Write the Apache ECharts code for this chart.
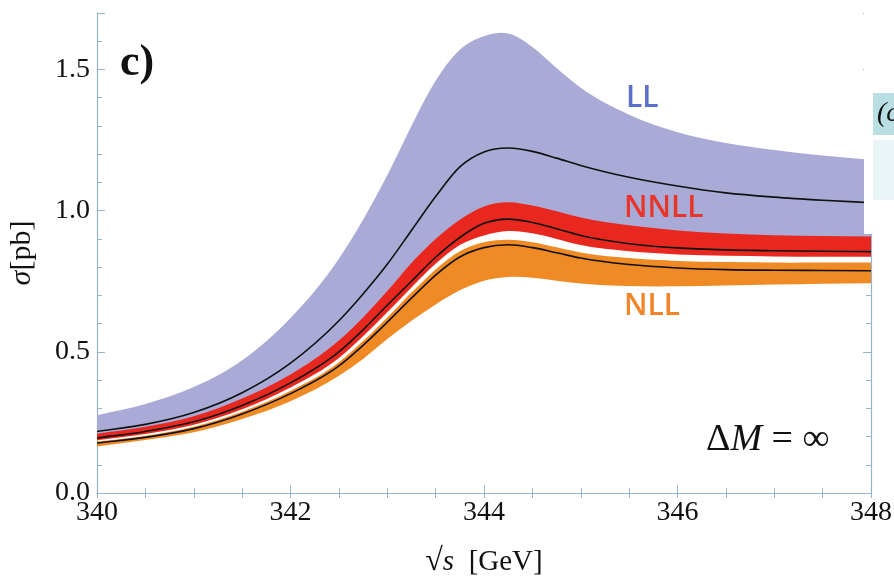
<!DOCTYPE html>
<html>
<head>
<meta charset="utf-8">
<script src="https://cdn.jsdelivr.net/npm/echarts@6/dist/echarts.min.js"></script>
<style>
  html, body { margin: 0; padding: 0; background: #fff; }
  #chart { width: 894px; height: 579px; }
</style>
</head>
<body>
<div id="chart"></div>
<script>
// sqrt(s) in GeV
const energies = [340, 340.5, 341, 341.5, 342, 342.5, 342.75, 343, 343.25, 343.5, 343.75, 344, 344.25, 344.5, 344.75, 345, 345.5, 346, 346.5, 347, 347.5, 348];

// LL band + central curve
const llHigh    = [0.275, 0.315, 0.375, 0.47, 0.62, 0.83, 0.968, 1.125, 1.30, 1.46, 1.57, 1.618, 1.627, 1.58, 1.505, 1.435, 1.34, 1.278, 1.24, 1.215, 1.195, 1.18];
const llLow     = [0.205, 0.23, 0.268, 0.33, 0.415, 0.535, 0.615, 0.71, 0.81, 0.895, 0.965, 1.01, 1.025, 1.015, 0.995, 0.973, 0.945, 0.927, 0.916, 0.91, 0.907, 0.906];
const llCentral = [0.218, 0.243, 0.285, 0.355, 0.46, 0.61, 0.705, 0.81, 0.93, 1.05, 1.155, 1.208, 1.222, 1.21, 1.186, 1.16, 1.118, 1.087, 1.063, 1.048, 1.037, 1.028];

// NNLL band + central curve
const nnllHigh    = [0.21, 0.235, 0.272, 0.335, 0.42, 0.54, 0.622, 0.715, 0.815, 0.9, 0.968, 1.015, 1.03, 1.018, 0.998, 0.976, 0.948, 0.93, 0.919, 0.913, 0.91, 0.908];
const nnllLow     = [0.187, 0.209, 0.242, 0.297, 0.374, 0.478, 0.555, 0.64, 0.728, 0.812, 0.878, 0.912, 0.928, 0.92, 0.9, 0.878, 0.856, 0.845, 0.84, 0.838, 0.837, 0.837];
const nnllCentral = [0.195, 0.218, 0.252, 0.31, 0.39, 0.5, 0.578, 0.665, 0.75, 0.835, 0.905, 0.955, 0.97, 0.958, 0.936, 0.912, 0.883, 0.868, 0.861, 0.858, 0.856, 0.855];

// NLL band + central curve
const nllHigh    = [0.182, 0.203, 0.235, 0.288, 0.362, 0.463, 0.538, 0.622, 0.71, 0.792, 0.856, 0.888, 0.897, 0.888, 0.87, 0.852, 0.832, 0.822, 0.818, 0.816, 0.816, 0.816];
const nllLow     = [0.165, 0.188, 0.215, 0.262, 0.325, 0.415, 0.475, 0.545, 0.61, 0.668, 0.718, 0.752, 0.765, 0.762, 0.752, 0.742, 0.733, 0.732, 0.735, 0.738, 0.741, 0.743];
const nllCentral = [0.177, 0.197, 0.228, 0.28, 0.352, 0.45, 0.523, 0.605, 0.69, 0.772, 0.836, 0.869, 0.879, 0.869, 0.851, 0.832, 0.809, 0.797, 0.791, 0.789, 0.788, 0.787];

const xTicks = [340, 342, 344, 346, 348];
const yTicks = [0.0, 0.5, 1.0, 1.5];

const axisColor = '#93b6cc';
const serif = '"Liberation Serif", "DejaVu Serif", serif';

// cubic hermite through pixel points, 3-point derivative for uneven x spacing
function splinePath(pts, moveFirst) {
  const n = pts.length;
  const h = [], s = [];
  for (let i = 0; i < n - 1; i++) {
    h.push(pts[i + 1][0] - pts[i][0]);
    s.push((pts[i + 1][1] - pts[i][1]) / h[i]);
  }
  const m = pts.map((p, i) => {
    if (i === 0) return s[0];
    if (i === n - 1) return s[n - 2];
    return (h[i] * s[i - 1] + h[i - 1] * s[i]) / (h[i - 1] + h[i]);
  });
  let d = (moveFirst ? 'M' : 'L') + pts[0][0] + ' ' + pts[0][1];
  for (let i = 0; i < n - 1; i++) {
    const p1 = pts[i], p2 = pts[i + 1];
    const k = h[i] / 3;
    d += ' C' + (p1[0] + k) + ' ' + (p1[1] + k * m[i]) + ' ' +
      (p2[0] - k) + ' ' + (p2[1] - k * m[i + 1]) + ' ' + p2[0] + ' ' + p2[1];
  }
  return d;
}

function band(name, hi, lo, color) {
  return {
    name: name, type: 'custom', coordinateSystem: 'cartesian2d', clip: true, silent: true,
    data: energies.map((x, i) => [x, lo[i], hi[i]]),
    encode: { x: 0, y: [1, 2] },
    renderItem: (params, api) => {
      if (params.dataIndex !== 0) return null;
      const top = energies.map((x, i) => api.coord([x, hi[i]]));
      const bot = energies.map((x, i) => api.coord([x, lo[i]])).reverse();
      const d = splinePath(top, true) + ' ' + splinePath(bot, false) + ' Z';
      return { type: 'path', shape: { pathData: d }, style: { fill: color, stroke: null } };
    },
    z: 2
  };
}

function centre(name, vals) {
  return {
    name: name, type: 'custom', coordinateSystem: 'cartesian2d', clip: true, silent: true,
    data: energies.map((x, i) => [x, vals[i]]),
    encode: { x: 0, y: 1 },
    renderItem: (params, api) => {
      if (params.dataIndex !== 0) return null;
      const pts = energies.map((x, i) => api.coord([x, vals[i]]));
      return {
        type: 'path', shape: { pathData: splinePath(pts, true) },
        style: { fill: null, stroke: '#111', lineWidth: 1.6 }
      };
    },
    z: 5
  };
}

const chart = echarts.init(document.getElementById('chart'));
chart.setOption({
  animation: false,
  backgroundColor: '#fff',
  grid: { left: 97, right: 23, top: 13, bottom: 86, outerBoundsMode: 'none', containLabel: false },
  xAxis: [
    {
      type: 'value', min: 340, max: 348, interval: 2,
      axisLine: { show: true, lineStyle: { color: axisColor, width: 1.2 } },
      axisTick: { show: true, inside: true, length: 8, lineStyle: { color: axisColor } },
      minorTick: { show: true, splitNumber: 4, length: 5, lineStyle: { color: axisColor } },
      splitLine: { show: false },
      axisLabel: {
        color: '#111', fontFamily: serif, fontSize: 28, margin: 6,
        formatter: (v) => xTicks.includes(v) ? String(v) : ''
      },
      name: '{r|√}{i|s}  [GeV]', nameLocation: 'middle', nameGap: 53,
      nameTextStyle: {
        color: '#111', fontFamily: serif, fontSize: 29,
        rich: {
          r: { fontFamily: serif, fontSize: 32, color: '#111' },
          i: { fontFamily: serif, fontSize: 29, fontStyle: 'italic', color: '#111' }
        }
      }
    },
    {
      type: 'value', min: 340, max: 348, interval: 2, position: 'top',
      axisLine: { show: false },
      axisTick: { show: true, inside: true, length: 5, lineStyle: { color: axisColor } },
      minorTick: { show: true, splitNumber: 4, length: 5, lineStyle: { color: axisColor } },
      splitLine: { show: false }, axisLabel: { show: false }
    }
  ],
  yAxis: [
    {
      type: 'value', min: 0, max: 1.7, interval: 0.5,
      axisLine: { show: true, lineStyle: { color: axisColor, width: 1.2 } },
      axisTick: { show: true, inside: true, length: 8, lineStyle: { color: axisColor } },
      minorTick: { show: true, splitNumber: 5, length: 5, lineStyle: { color: axisColor } },
      splitLine: { show: false },
      axisLabel: {
        color: '#111', fontFamily: serif, fontSize: 28, margin: 7,
        formatter: (v) => {
          const t = yTicks.find((k) => Math.abs(k - v) < 1e-6);
          return t === undefined ? '' : t.toFixed(1);
        }
      },
      name: '{g|σ}[pb]', nameLocation: 'middle', nameGap: 60, nameRotate: 90,
      nameTextStyle: {
        color: '#111', fontFamily: serif, fontSize: 30,
        rich: { g: { fontFamily: serif, fontSize: 30, fontStyle: 'italic', color: '#111' } }
      }
    },
    {
      type: 'value', min: 0, max: 1.7, interval: 0.5, position: 'right',
      axisLine: { show: true, lineStyle: { color: axisColor, width: 1.2 } },
      axisTick: { show: true, inside: true, length: 8, lineStyle: { color: axisColor } },
      minorTick: { show: true, splitNumber: 5, length: 5, lineStyle: { color: axisColor } },
      splitLine: { show: false }, axisLabel: { show: false }
    }
  ],
  series: [
    band('LL', llHigh, llLow, '#aaaad6'),
    band('NNLL', nnllHigh, nnllLow, '#e8281e'),
    band('NLL', nllHigh, nllLow, '#ef8a25'),
    centre('LL central', llCentral),
    centre('NNLL central', nnllCentral),
    centre('NLL central', nllCentral)
  ],
  graphic: [
    // the neighbouring panel overlaps the top right corner of this one
    { type: 'rect', z: 50, shape: { x: 864, y: 0, width: 30, height: 234 }, style: { fill: '#fff' } },
    { type: 'rect', z: 100, shape: { x: 873, y: 93, width: 21, height: 42 }, style: { fill: '#b9dfe2' } },
    { type: 'rect', z: 100, shape: { x: 873, y: 140, width: 21, height: 60 }, style: { fill: '#e9f4f6' } },
    { type: 'text', z: 101, left: 877, top: 100, style: { text: '(c', font: 'italic 28px ' + serif, fill: '#111' } },
    { type: 'text', z: 100, left: 120, top: 42, style: { text: 'c)', font: 'bold 44px ' + serif, fill: '#111' } },
    { type: 'text', z: 100, left: 626, top: 83, style: { text: 'LL', font: '600 30px "Open Sans", sans-serif', fill: '#5a6fc8' } },
    { type: 'text', z: 100, left: 624, top: 193, style: { text: 'NNLL', font: '600 30px "Open Sans", sans-serif', fill: '#e8352a' } },
    { type: 'text', z: 100, left: 624, top: 291, style: { text: 'NLL', font: '600 30px "Open Sans", sans-serif', fill: '#f0852a' } },
    {
      type: 'text', z: 100, left: 706, top: 421,
      style: {
        text: '{n|Δ}{m|M}{n| = ∞}',
        rich: {
          n: { fontFamily: serif, fontSize: 38, fill: '#111' },
          m: { fontFamily: serif, fontSize: 38, fontStyle: 'italic', fill: '#111' }
        }
      }
    }
  ]
});
</script>
</body>
</html>
